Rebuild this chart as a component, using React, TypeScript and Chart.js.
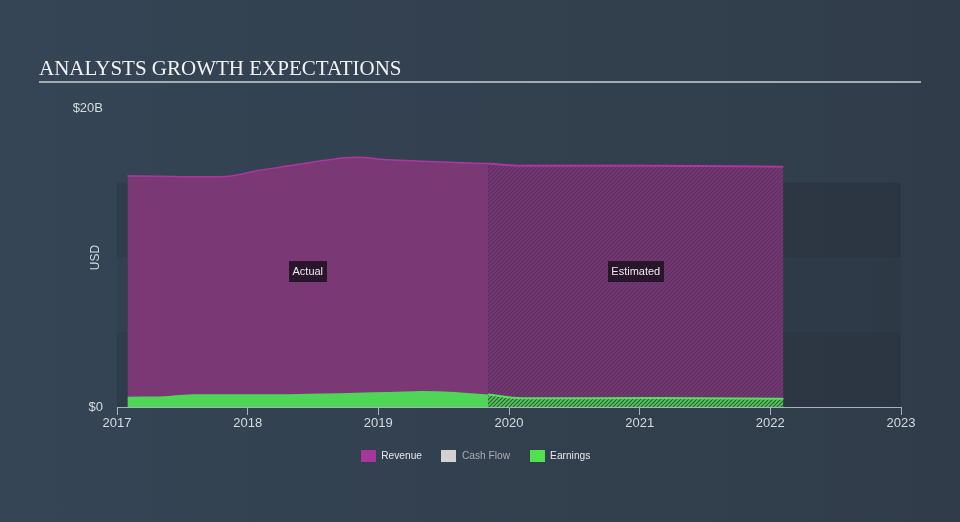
import React, { useEffect, useRef } from "react";
import { Chart, registerables } from "chart.js";

Chart.register(...registerables);

// ---- data (USD billions, decimal years) ----
const actualDates = [2017.08, 2017.33, 2017.58, 2017.83, 2018.08, 2018.33, 2018.58, 2018.83, 2019.08, 2019.33, 2019.58, 2019.84];
const revenueActual = [15.45, 15.44, 15.4, 15.42, 15.82, 16.15, 16.49, 16.7, 16.54, 16.44, 16.35, 16.28];
const earningsActual = [0.69, 0.7, 0.85, 0.86, 0.85, 0.86, 0.9, 0.96, 1.0, 1.07, 1.0, 0.83];

const estimateDates = [2019.84, 2020.1, 2021.1, 2022.1];
const revenueEstimate = [16.28, 16.14, 16.14, 16.07];
const earningsEstimate = [0.83, 0.58, 0.6, 0.56];

const xTickYears = [2017, 2018, 2019, 2020, 2021, 2022, 2023];
const yTickValues = [0, 20];
const yTickLabels = ["$0", "$20B"];
const bandEdges = [0, 5, 10, 15, 20];

const legendItems = ["Revenue", "Cash Flow", "Earnings"];
const legendColors = ["#a8379b", "#d2d2d2", "#52e053"];

const titleText = "ANALYSTS GROWTH EXPECTATIONS";

const SANS = '"Liberation Sans", Arial, sans-serif';

function makeHatch(base: string, stripe: string): CanvasPattern | string {
  const c = document.createElement("canvas");
  c.width = 4;
  c.height = 4;
  const g = c.getContext("2d");
  if (!g) return base;
  g.fillStyle = base;
  g.fillRect(0, 0, 4, 4);
  g.strokeStyle = stripe;
  g.lineWidth = 1.1;
  g.beginPath();
  g.moveTo(-1, 5);
  g.lineTo(5, -1);
  g.moveTo(-1, 1);
  g.lineTo(1, -1);
  g.moveTo(3, 5);
  g.lineTo(5, 3);
  g.stroke();
  const p = g.createPattern(c, "repeat");
  return p || base;
}

const overlayPlugin = {
  id: "overlay",
  beforeDatasetsDraw(chart: any) {
    const { ctx, chartArea } = chart;
    const y = chart.scales.y;
    ctx.save();
    for (let i = 0; i < bandEdges.length - 1; i++) {
      const top = y.getPixelForValue(bandEdges[i + 1]);
      const bot = y.getPixelForValue(bandEdges[i]);
      const alpha = i === 0 || i === 2 ? 0.1 : i === 1 ? 0.04 : 0;
      if (alpha > 0) {
        ctx.fillStyle = `rgba(0,0,0,${alpha})`;
        ctx.fillRect(chartArea.left, top, chartArea.right - chartArea.left, bot - top);
      }
    }
    ctx.restore();
  },
  afterDraw(chart: any) {
    const { ctx, chartArea } = chart;
    const x = chart.scales.x;
    const y = chart.scales.y;
    ctx.save();

    // title
    ctx.fillStyle = "#f0f2f4";
    ctx.font = '21px "Liberation Serif", "Times New Roman", serif';
    ctx.textBaseline = "alphabetic";
    ctx.textAlign = "left";
    ctx.fillText(titleText, 39, 75);
    ctx.fillStyle = "#a3abb3";
    ctx.fillRect(39, 81, 882, 2);

    // y labels
    ctx.font = `13px ${SANS}`;
    ctx.fillStyle = "#d6dadd";
    ctx.textAlign = "right";
    ctx.textBaseline = "middle";
    yTickValues.forEach((v, i) => {
      ctx.fillText(yTickLabels[i], chartArea.left - 14, y.getPixelForValue(v));
    });

    // USD axis title
    ctx.save();
    ctx.translate(96, (chartArea.top + chartArea.bottom) / 2);
    ctx.rotate(-Math.PI / 2);
    ctx.textAlign = "center";
    ctx.textBaseline = "middle";
    ctx.font = `12px ${SANS}`;
    ctx.fillStyle = "#d6dadd";
    ctx.fillText("USD", 0, 0);
    ctx.restore();

    // Actual / Estimated tags
    const tag = (text: string, cx: number, cy: number) => {
      ctx.font = `11px ${SANS}`;
      const w = ctx.measureText(text).width + 7;
      const h = 21;
      ctx.fillStyle = "rgba(28,16,32,0.85)";
      ctx.fillRect(Math.round(cx - w / 2), Math.round(cy - h / 2), Math.round(w), h);
      ctx.fillStyle = "#ece6ee";
      ctx.textAlign = "center";
      ctx.textBaseline = "middle";
      ctx.fillText(text, cx, cy + 0.5);
    };
    const tagY = y.getPixelForValue(9.05);
    tag("Actual", (x.getPixelForValue(actualDates[0]) + x.getPixelForValue(actualDates[actualDates.length - 1])) / 2, tagY);
    tag("Estimated", (x.getPixelForValue(estimateDates[0]) + x.getPixelForValue(estimateDates[estimateDates.length - 1])) / 2, tagY);

    // legend
    ctx.font = `10.2px ${SANS}`;
    ctx.textAlign = "left";
    ctx.textBaseline = "middle";
    const widths = legendItems.map((t) => ctx.measureText(t).width);
    const sw = 15, gap = 5.5, between = 19.5;
    const total = widths.reduce((a, w) => a + sw + gap + w, 0) + between * (legendItems.length - 1);
    let lx = 475.5 - total / 2;
    const ly = 456.5;
    legendItems.forEach((t, i) => {
      ctx.fillStyle = legendColors[i];
      ctx.fillRect(Math.round(lx), 450, sw, 12);
      ctx.fillStyle = i === 1 ? "#a7adb3" : "#e4e7ea";
      ctx.fillText(t, lx + sw + gap, ly);
      lx += sw + gap + widths[i] + between;
    });

    ctx.restore();
  },
};

export default function App() {
  const ref = useRef<HTMLCanvasElement | null>(null);

  useEffect(() => {
    const canvas = ref.current;
    if (!canvas) return;
    const revHatch = makeHatch("#7a3874", "#55305f");
    const earnHatch = makeHatch("#52c858", "#2f5a3c");

    const toPts = (xs: number[], ys: number[]) => xs.map((v, i) => ({ x: v, y: ys[i] }));

    const chart = new Chart(canvas, {
      type: "line",
      data: {
        datasets: [
          {
            label: "Earnings",
            data: toPts(actualDates, earningsActual),
            borderColor: "#52d858",
            backgroundColor: "#50d656",
            borderWidth: 0,
            fill: "origin",
            pointRadius: 0,
            cubicInterpolationMode: "monotone",
            order: 0,
          },
          {
            label: "Earnings estimate",
            data: toPts(estimateDates, earningsEstimate),
            borderColor: "#55e05b",
            backgroundColor: earnHatch as any,
            borderWidth: 2,
            fill: "origin",
            pointRadius: 0,
            cubicInterpolationMode: "monotone",
            order: 1,
          },
          {
            label: "Revenue",
            data: toPts(actualDates, revenueActual),
            borderColor: "#ad379e",
            backgroundColor: "#7a3874",
            borderWidth: 1.5,
            fill: "origin",
            pointRadius: 0,
            cubicInterpolationMode: "monotone",
            order: 2,
          },
          {
            label: "Revenue estimate",
            data: toPts(estimateDates, revenueEstimate),
            borderColor: "#ad379e",
            backgroundColor: revHatch as any,
            borderWidth: 2,
            fill: "origin",
            pointRadius: 0,
            cubicInterpolationMode: "monotone",
            order: 3,
          },
        ],
      },
      options: {
        animation: false,
        responsive: false,
        devicePixelRatio: 1,
        layout: { padding: { left: 117, right: 59, top: 108, bottom: 85 } },
        plugins: {
          legend: { display: false },
          tooltip: { enabled: false },
          title: { display: false },
        },
        scales: {
          x: {
            type: "linear",
            min: xTickYears[0],
            max: xTickYears[xTickYears.length - 1],
            afterBuildTicks: (scale: any) => {
              scale.ticks = xTickYears.map((v) => ({ value: v }));
            },
            afterFit: (scale: any) => {
              scale.height = 30;
            },
            ticks: {
              autoSkip: false,
              maxRotation: 0,
              padding: 1,
              color: "#d6dadd",
              font: { family: SANS, size: 13 },
              callback: (v: any) => String(v),
            },
            grid: {
              display: true,
              drawOnChartArea: false,
              drawTicks: true,
              tickLength: 8,
              color: "#a9b1b9",
              lineWidth: 1,
            },
            border: { display: true, color: "#a9b1b9", width: 1 },
          },
          y: {
            display: false,
            min: yTickValues[0],
            max: yTickValues[yTickValues.length - 1],
          },
        },
      },
      plugins: [overlayPlugin],
    });
    return () => chart.destroy();
  }, []);

  return (
    <div
      style={{
        position: "fixed",
        left: 0,
        top: 0,
        width: 960,
        height: 522,
        background: "linear-gradient(to right, #354555, #303c49)",
      }}
    >
      <canvas ref={ref} width={960} height={522} style={{ display: "block" }} />
    </div>
  );
}
